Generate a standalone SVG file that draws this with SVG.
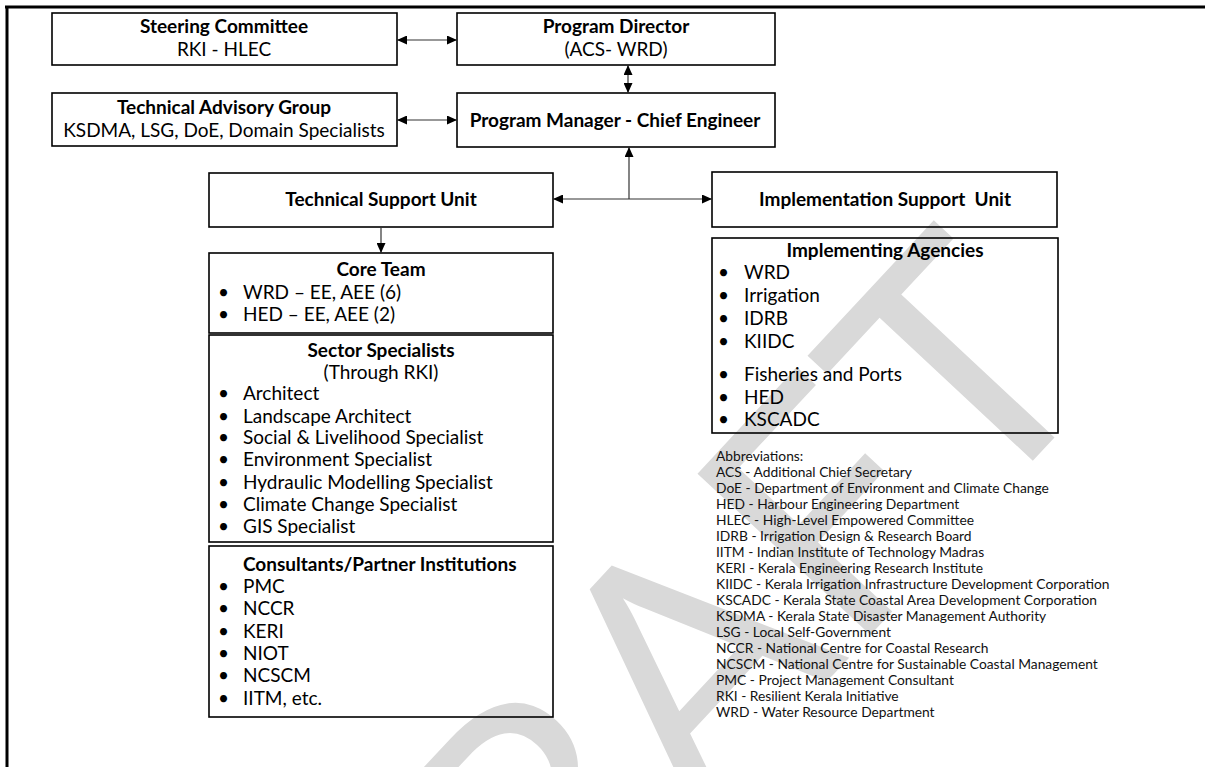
<svg xmlns="http://www.w3.org/2000/svg" width="1205" height="767" viewBox="0 0 1205 767">
<style>
.box{fill:none;stroke:#000;stroke-width:1.6}
.t{font-family:Lato,"Liberation Sans",sans-serif;font-size:19px;fill:#000}
.b{font-weight:bold}
.c{text-anchor:middle}
.ab{font-family:Lato,"Liberation Sans",sans-serif;font-size:13.8px;fill:#111}
.con{fill:none;stroke:#333;stroke-width:1.2}
.wm{font-family:Lato,"Liberation Sans",sans-serif;font-size:330px;fill:#d9d9d9}
</style>
<defs>
<marker id="ah" markerUnits="userSpaceOnUse" markerWidth="10" markerHeight="9" refX="10" refY="4.5" orient="auto-start-reverse"><path d="M0,0 L10,4.5 L0,9 z" fill="#000"/></marker>
</defs>
<rect width="1205" height="767" fill="#fff"/>
<text class="wm" text-anchor="end" transform="translate(1110,378) rotate(-47)">DRAFT</text>
<g id="frame"><path d="M5,7 H1205 M7,6 V767" fill="none" stroke="#000" stroke-width="3"/></g>

<g id="steering"><rect class="box" x="52" y="13" width="345" height="52"/>
<text class="t b c" x="224" y="33">Steering Committee</text><text class="t c" x="224" y="56">RKI - HLEC</text></g>
<g id="director"><rect class="box" x="457" y="13" width="318" height="52"/>
<text class="t b c" x="616" y="33">Program Director</text><text class="t c" x="616" y="56">(ACS- WRD)</text></g>
<g id="tag"><rect class="box" x="52" y="93" width="345" height="53"/>
<text class="t b c" x="224" y="114">Technical Advisory Group</text><text class="t c" x="224" y="137">KSDMA, LSG, DoE, Domain Specialists</text></g>
<g id="manager"><rect class="box" x="457" y="93" width="318" height="54"/>
<text class="t b c" x="615" y="127">Program Manager - Chief Engineer</text></g>
<g id="tsu"><rect class="box" x="209" y="173" width="344" height="54"/>
<text class="t b c" x="381" y="206">Technical Support Unit</text></g>
<g id="isu"><rect class="box" x="712" y="172" width="345" height="55"/>
<text class="t b c" x="885" y="206" xml:space="preserve">Implementation Support  Unit</text></g>

<g id="core"><rect class="box" x="209" y="253" width="344" height="80"/>
<text class="t b c" x="381" y="276">Core Team</text>
<text class="t" x="218" y="299">•</text><text class="t" x="243" y="299">WRD – EE, AEE (6)</text>
<text class="t" x="218" y="321">•</text><text class="t" x="243" y="321">HED – EE, AEE (2)</text></g>

<g id="sector"><rect class="box" x="209" y="335" width="344" height="207"/>
<text class="t b c" x="381" y="357">Sector Specialists</text>
<text class="t c" x="381" y="379">(Through RKI)</text>
<text class="t" x="218" y="400">•</text><text class="t" x="243" y="400">Architect</text>
<text class="t" x="218" y="423">•</text><text class="t" x="243" y="423">Landscape Architect</text>
<text class="t" x="218" y="444">•</text><text class="t" x="243" y="444">Social &amp; Livelihood Specialist</text>
<text class="t" x="218" y="466">•</text><text class="t" x="243" y="466">Environment Specialist</text>
<text class="t" x="218" y="489">•</text><text class="t" x="243" y="489">Hydraulic Modelling Specialist</text>
<text class="t" x="218" y="511">•</text><text class="t" x="243" y="511">Climate Change Specialist</text>
<text class="t" x="218" y="533">•</text><text class="t" x="243" y="533">GIS Specialist</text></g>

<g id="consultants"><rect class="box" x="209" y="546" width="344" height="171"/>
<text class="t b" x="243" y="571">Consultants/Partner Institutions</text>
<text class="t" x="218" y="593">•</text><text class="t" x="243" y="593">PMC</text>
<text class="t" x="218" y="615">•</text><text class="t" x="243" y="615">NCCR</text>
<text class="t" x="218" y="638">•</text><text class="t" x="243" y="638">KERI</text>
<text class="t" x="218" y="660">•</text><text class="t" x="243" y="660">NIOT</text>
<text class="t" x="218" y="682">•</text><text class="t" x="243" y="682">NCSCM</text>
<text class="t" x="218" y="705">•</text><text class="t" x="243" y="705">IITM, etc.</text></g>

<g id="agencies"><rect class="box" x="712" y="238" width="346" height="195"/>
<text class="t b c" x="885" y="257">Implementing Agencies</text>
<text class="t" x="718" y="279">•</text><text class="t" x="744" y="279">WRD</text>
<text class="t" x="718" y="302">•</text><text class="t" x="744" y="302">Irrigation</text>
<text class="t" x="718" y="325">•</text><text class="t" x="744" y="325">IDRB</text>
<text class="t" x="718" y="348">•</text><text class="t" x="744" y="348">KIIDC</text>
<text class="t" x="718" y="381">•</text><text class="t" x="744" y="381">Fisheries and Ports</text>
<text class="t" x="718" y="404">•</text><text class="t" x="744" y="404">HED</text>
<text class="t" x="718" y="426">•</text><text class="t" x="744" y="426">KSCADC</text></g>

<g id="abbreviations">
<text class="ab" x="716" y="461">Abbreviations:</text>
<text class="ab" x="716" y="477">ACS - Additional Chief Secretary</text>
<text class="ab" x="716" y="493">DoE - Department of Environment and Climate Change</text>
<text class="ab" x="716" y="509">HED - Harbour Engineering Department</text>
<text class="ab" x="716" y="525">HLEC - High-Level Empowered Committee</text>
<text class="ab" x="716" y="541">IDRB - Irrigation Design &amp; Research Board</text>
<text class="ab" x="716" y="557">IITM - Indian Institute of Technology Madras</text>
<text class="ab" x="716" y="573">KERI - Kerala Engineering Research Institute</text>
<text class="ab" x="716" y="589">KIIDC - Kerala Irrigation Infrastructure Development Corporation</text>
<text class="ab" x="716" y="605">KSCADC - Kerala State Coastal Area Development Corporation</text>
<text class="ab" x="716" y="621">KSDMA - Kerala State Disaster Management Authority</text>
<text class="ab" x="716" y="637">LSG - Local Self-Government</text>
<text class="ab" x="716" y="653">NCCR - National Centre for Coastal Research</text>
<text class="ab" x="716" y="669">NCSCM - National Centre for Sustainable Coastal Management</text>
<text class="ab" x="716" y="685">PMC - Project Management Consultant</text>
<text class="ab" x="716" y="701">RKI - Resilient Kerala Initiative</text>
<text class="ab" x="716" y="717">WRD - Water Resource Department</text>
</g>

<g id="connectors">
<line class="con" x1="397" y1="40" x2="457" y2="40" marker-start="url(#ah)" marker-end="url(#ah)"/>
<line class="con" x1="397" y1="120" x2="457" y2="120" marker-start="url(#ah)" marker-end="url(#ah)"/>
<line class="con" x1="628" y1="65" x2="628" y2="93" marker-start="url(#ah)" marker-end="url(#ah)"/>
<line class="con" x1="629" y1="199" x2="629" y2="147" marker-end="url(#ah)"/>
<line class="con" x1="553" y1="199" x2="712" y2="199" marker-start="url(#ah)" marker-end="url(#ah)"/>
<line class="con" x1="381" y1="227" x2="381" y2="253" marker-end="url(#ah)"/>
</g>
</svg>
